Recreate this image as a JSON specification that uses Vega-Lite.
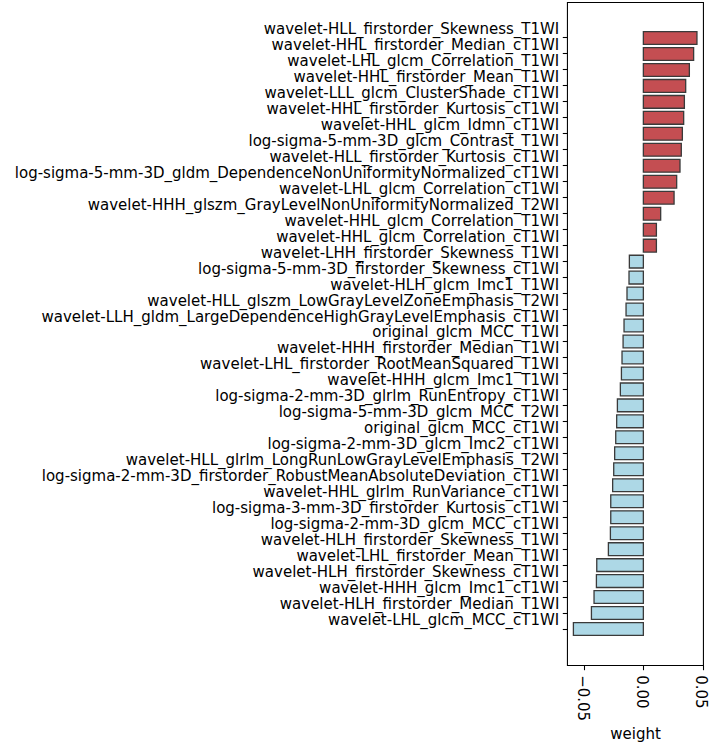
{
  "$schema": "https://vega.github.io/schema/vega-lite/v6.json",
  "autosize": {"type": "none"},
  "width": 136,
  "height": 663,
  "padding": {"left": 567, "top": 2, "right": 6, "bottom": 77},
  "background": "white",
  "config": {
    "view": {"stroke": "black", "strokeWidth": 1.07},
    "font": "DejaVu Sans",
    "axis": {"labelFont": "DejaVu Sans", "titleFont": "DejaVu Sans", "labelColor": "black", "titleColor": "black", "tickColor": "black", "tickWidth": 1.07, "tickSize": 4.7, "grid": false, "domain": false}
  },
  "data": {"values": [
    {"feature": "wavelet-HLL_firstorder_Skewness_T1WI", "weight": 0.0452},
    {"feature": "wavelet-HHL_firstorder_Median_cT1WI", "weight": 0.0424},
    {"feature": "wavelet-LHL_glcm_Correlation_T1WI", "weight": 0.0388},
    {"feature": "wavelet-HHL_firstorder_Mean_T1WI", "weight": 0.0357},
    {"feature": "wavelet-LLL_glcm_ClusterShade_cT1WI", "weight": 0.0346},
    {"feature": "wavelet-HHL_firstorder_Kurtosis_cT1WI", "weight": 0.0340},
    {"feature": "wavelet-HHL_glcm_Idmn_cT1WI", "weight": 0.0329},
    {"feature": "log-sigma-5-mm-3D_glcm_Contrast_T1WI", "weight": 0.0320},
    {"feature": "wavelet-HLL_firstorder_Kurtosis_cT1WI", "weight": 0.0309},
    {"feature": "log-sigma-5-mm-3D_gldm_DependenceNonUniformityNormalized_cT1WI", "weight": 0.0281},
    {"feature": "wavelet-LHL_glcm_Correlation_cT1WI", "weight": 0.0259},
    {"feature": "wavelet-HHH_glszm_GrayLevelNonUniformityNormalized_T2WI", "weight": 0.0146},
    {"feature": "wavelet-HHL_glcm_Correlation_T1WI", "weight": 0.0110},
    {"feature": "wavelet-HHL_glcm_Correlation_cT1WI", "weight": 0.0110},
    {"feature": "wavelet-LHH_firstorder_Skewness_T1WI", "weight": -0.0118},
    {"feature": "log-sigma-5-mm-3D_firstorder_Skewness_cT1WI", "weight": -0.0121},
    {"feature": "wavelet-HLH_glcm_Imc1_T1WI", "weight": -0.0138},
    {"feature": "wavelet-HLL_glszm_LowGrayLevelZoneEmphasis_T2WI", "weight": -0.0146},
    {"feature": "wavelet-LLH_gldm_LargeDependenceHighGrayLevelEmphasis_cT1WI", "weight": -0.0163},
    {"feature": "original_glcm_MCC_T1WI", "weight": -0.0171},
    {"feature": "wavelet-HHH_firstorder_Median_T1WI", "weight": -0.0180},
    {"feature": "wavelet-LHL_firstorder_RootMeanSquared_T1WI", "weight": -0.0185},
    {"feature": "wavelet-HHH_glcm_Imc1_T1WI", "weight": -0.0194},
    {"feature": "log-sigma-2-mm-3D_glrlm_RunEntropy_cT1WI", "weight": -0.0219},
    {"feature": "log-sigma-5-mm-3D_glcm_MCC_T2WI", "weight": -0.0225},
    {"feature": "original_glcm_MCC_cT1WI", "weight": -0.0233},
    {"feature": "log-sigma-2-mm-3D_glcm_Imc2_cT1WI", "weight": -0.0242},
    {"feature": "wavelet-HLL_glrlm_LongRunLowGrayLevelEmphasis_T2WI", "weight": -0.0250},
    {"feature": "log-sigma-2-mm-3D_firstorder_RobustMeanAbsoluteDeviation_cT1WI", "weight": -0.0259},
    {"feature": "wavelet-HHL_glrlm_RunVariance_cT1WI", "weight": -0.0275},
    {"feature": "log-sigma-3-mm-3D_firstorder_Kurtosis_cT1WI", "weight": -0.0275},
    {"feature": "log-sigma-2-mm-3D_glcm_MCC_cT1WI", "weight": -0.0278},
    {"feature": "wavelet-HLH_firstorder_Skewness_T1WI", "weight": -0.0295},
    {"feature": "wavelet-LHL_firstorder_Mean_T1WI", "weight": -0.0393},
    {"feature": "wavelet-HLH_firstorder_Skewness_cT1WI", "weight": -0.0396},
    {"feature": "wavelet-HHH_glcm_Imc1_cT1WI", "weight": -0.0416},
    {"feature": "wavelet-HLH_firstorder_Median_T1WI", "weight": -0.0438},
    {"feature": "wavelet-LHL_glcm_MCC_cT1WI", "weight": -0.0590}
  ]},
  "mark": {"type": "bar", "stroke": "#3a3a3a", "strokeWidth": 1.3},
  "encoding": {
    "y": {
      "field": "feature", "type": "nominal", "sort": null,
      "scale": {"paddingInner": 0.2, "paddingOuter": 0, "range": [29.6, 633.4]},
      "axis": {"title": null, "labelFontSize": 15, "labelLimit": 0, "labelPadding": 3.5, "labelOffset": -9}
    },
    "x": {
      "field": "weight", "type": "quantitative",
      "scale": {"domain": [-0.0644, 0.0503], "nice": false, "zero": false},
      "axis": {"title": "weight", "values": [-0.05, 0, 0.05], "format": ".2f", "labelAngle": 90, "labelFontSize": 15, "labelPadding": 5, "labelOffset": -2, "titleFontSize": 15, "titleFontWeight": "normal", "titlePadding": 6}
    },
    "color": {"condition": {"test": "datum.weight > 0", "value": "#c44e52"}, "value": "#add8e6"}
  }
}
